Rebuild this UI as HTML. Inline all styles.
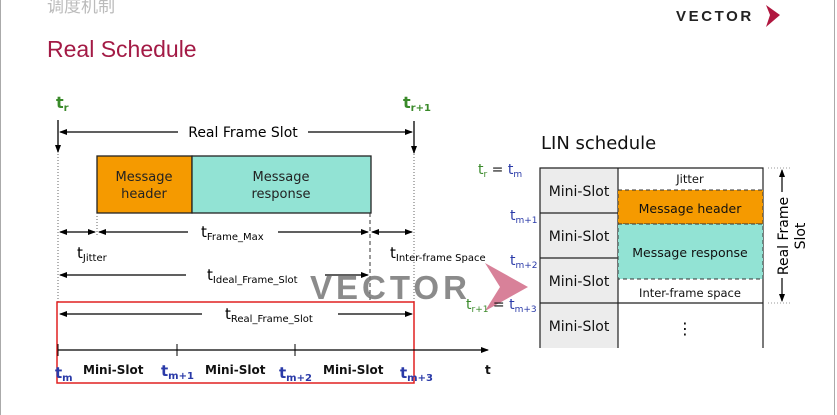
<!DOCTYPE html>
<html><head><meta charset="utf-8"><style>
body{margin:0;background:#fff}
svg{display:block;font-family:"DejaVu Sans","Liberation Sans",sans-serif}
</style></head><body>
<svg width="837" height="415" viewBox="0 0 837 415" xmlns="http://www.w3.org/2000/svg">
<defs>
<marker id="a" markerWidth="8" markerHeight="8" refX="7" refY="4" orient="auto-start-reverse" markerUnits="userSpaceOnUse"><path d="M0,1 L8,4 L0,7z" fill="#000"/></marker>
</defs>
<rect x="0.5" y="-1" width="834" height="420" fill="none" stroke="#aaa"/>
<text x="47" y="12" font-size="17" fill="#bbb" font-family="Liberation Sans,Noto Sans CJK SC,sans-serif">调度机制</text>
<text x="47" y="57" font-size="23" fill="#a31a45" font-family="Liberation Sans,sans-serif">Real Schedule</text>
<text x="676" y="21" font-size="15" font-weight="bold" letter-spacing="2.6" fill="#222" font-family="Liberation Sans,sans-serif">VECTOR</text>
<path d="M766,5 L780,15 L766,27 L770,15z" fill="#b0173f"/>
<!-- left diagram -->
<text x="56" y="108" font-size="16" font-weight="bold" fill="#3a8a2a">t<tspan font-size="10" dy="3">r</tspan></text>
<text x="403" y="108" font-size="16" font-weight="bold" fill="#3a8a2a">t<tspan font-size="10" dy="3">r+1</tspan></text>
<line x1="58" y1="120" x2="58" y2="152" stroke="#000" stroke-width="1.3" marker-end="url(#a)"/>
<line x1="414" y1="121" x2="414" y2="153" stroke="#000" stroke-width="1.3" marker-end="url(#a)"/>
<line x1="58" y1="154" x2="58" y2="302" stroke="#666" stroke-dasharray="1,2"/>
<line x1="414" y1="154" x2="414" y2="302" stroke="#666" stroke-dasharray="1,2"/>
<line x1="60" y1="132" x2="178" y2="132" stroke="#000" stroke-width="1.3" marker-start="url(#a)"/>
<line x1="308" y1="132" x2="412" y2="132" stroke="#000" stroke-width="1.3" marker-end="url(#a)"/>
<text x="243" y="137" font-size="14" text-anchor="middle">Real Frame Slot</text>
<rect x="97" y="156" width="95" height="57" fill="#f59a00" stroke="#222" stroke-width="1.3"/>
<rect x="192" y="156" width="179" height="57" fill="#92e3d4" stroke="#222" stroke-width="1.3"/>
<text x="144" y="181" font-size="13" text-anchor="middle" fill="#222">Message</text>
<text x="144" y="198" font-size="13" text-anchor="middle" fill="#222">header</text>
<text x="281" y="181" font-size="13" text-anchor="middle" fill="#222">Message</text>
<text x="281" y="198" font-size="13" text-anchor="middle" fill="#222">response</text>
<line x1="97" y1="213" x2="97" y2="235" stroke="#666" stroke-dasharray="1,2"/>
<line x1="370" y1="213" x2="370" y2="300" stroke="#333" stroke-dasharray="4,3"/>
<line x1="60" y1="232" x2="95" y2="232" stroke="#000" stroke-width="1.2" marker-start="url(#a)" marker-end="url(#a)"/>
<line x1="99" y1="232" x2="188" y2="232" stroke="#000" stroke-width="1.2" marker-start="url(#a)"/>
<line x1="278" y1="232" x2="368" y2="232" stroke="#000" stroke-width="1.2" marker-end="url(#a)"/>
<line x1="372" y1="232" x2="412" y2="232" stroke="#000" stroke-width="1.2" marker-start="url(#a)" marker-end="url(#a)"/>
<text x="201" y="237" font-size="15">t<tspan font-size="10" dy="3">Frame_Max</tspan></text>
<text x="77" y="258" font-size="15">t<tspan font-size="10" dy="3">Jitter</tspan></text>
<text x="390" y="258" font-size="15">t<tspan font-size="10" dy="3">Inter-frame Space</tspan></text>
<line x1="60" y1="275" x2="186" y2="275" stroke="#000" stroke-width="1.2" marker-start="url(#a)"/>
<line x1="325" y1="275" x2="368" y2="275" stroke="#000" stroke-width="1.2" marker-end="url(#a)"/>
<text x="207" y="280" font-size="15">t<tspan font-size="10" dy="3">Ideal_Frame_Slot</tspan></text>
<rect x="57" y="302" width="357" height="81" fill="none" stroke="#e02020" stroke-width="1.5"/>
<line x1="60" y1="314" x2="202" y2="314" stroke="#000" stroke-width="1.2" marker-start="url(#a)"/>
<line x1="338" y1="314" x2="412" y2="314" stroke="#000" stroke-width="1.2" marker-end="url(#a)"/>
<text x="225" y="319" font-size="15">t<tspan font-size="10" dy="3">Real_Frame_Slot</tspan></text>
<line x1="58" y1="350" x2="488" y2="350" stroke="#000" stroke-width="1.2" marker-end="url(#a)"/>
<line x1="58" y1="344" x2="58" y2="356" stroke="#000"/>
<line x1="177" y1="344" x2="177" y2="356" stroke="#000"/>
<line x1="295" y1="344" x2="295" y2="356" stroke="#000"/>
<g font-size="12" font-weight="bold" fill="#111">
<text x="83" y="374">Mini-Slot</text><text x="205" y="374">Mini-Slot</text><text x="323" y="374">Mini-Slot</text><text x="485" y="374">t</text></g>
<g font-size="15" font-weight="bold" fill="#2a3aa8">
<text x="55" y="378">t<tspan font-size="10" dy="3">m</tspan></text>
<text x="161" y="376">t<tspan font-size="10" dy="3">m+1</tspan></text>
<text x="279" y="378">t<tspan font-size="10" dy="3">m+2</tspan></text>
<text x="400" y="378">t<tspan font-size="10" dy="3">m+3</tspan></text></g>
<!-- watermark -->
<text x="310" y="299" font-size="33" font-weight="bold" letter-spacing="4" fill="#777" opacity="0.85" font-family="Liberation Sans,sans-serif">VECTOR</text>
<path d="M485,263 L528,287 L485,311 L500,287z" fill="#d4738e" opacity="0.9"/>
<!-- right -->
<text x="541" y="149" font-size="18" fill="#111">LIN schedule</text>
<rect x="540" y="168" width="78" height="180" fill="#ececec"/>
<path d="M540,348 V168 H763 V348 M618,168 V348 M540,213 H618 M540,258 H618 M540,303 H763" stroke="#222" stroke-width="1.2" fill="none"/>
<rect x="618" y="190" width="145" height="34" fill="#f59a00" stroke="#333" stroke-dasharray="4,3"/>
<rect x="618" y="224" width="145" height="55" fill="#92e3d4" stroke="#333" stroke-dasharray="4,3"/>
<g font-size="14" fill="#111" text-anchor="middle">
<text x="579" y="196">Mini-Slot</text><text x="579" y="241">Mini-Slot</text><text x="579" y="286">Mini-Slot</text><text x="579" y="331">Mini-Slot</text></g>
<g font-size="11.5" fill="#111" text-anchor="middle">
<text x="690" y="183">Jitter</text><text x="690" y="213" font-size="12.5">Message header</text><text x="690" y="257" font-size="12.5">Message response</text><text x="690" y="297">Inter-frame space</text></g>
<text x="685" y="334" font-size="16" text-anchor="middle">⋮</text>
<g font-size="14">
<text x="478" y="174" fill="#3a8a2a">t<tspan font-size="9" dy="3">r</tspan><tspan dy="-3" fill="#111"> = </tspan><tspan fill="#2a3aa8">t</tspan><tspan font-size="9" dy="3" fill="#2a3aa8">m</tspan></text>
<text x="510" y="220" fill="#2a3aa8">t<tspan font-size="9" dy="3">m+1</tspan></text>
<text x="510" y="265" fill="#2a3aa8">t<tspan font-size="9" dy="3">m+2</tspan></text>
<text x="466" y="309" fill="#3a8a2a">t<tspan font-size="9" dy="3">r+1</tspan><tspan dy="-3" fill="#111"> = </tspan><tspan fill="#2a3aa8">t</tspan><tspan font-size="9" dy="3" fill="#2a3aa8">m+3</tspan></text></g>
<line x1="768" y1="168" x2="790" y2="168" stroke="#999" stroke-dasharray="1,2"/>
<line x1="768" y1="303" x2="790" y2="303" stroke="#999" stroke-dasharray="1,2"/>
<line x1="782" y1="192" x2="782" y2="170" stroke="#000" stroke-width="1.2" marker-end="url(#a)"/>
<line x1="782" y1="278" x2="782" y2="301" stroke="#000" stroke-width="1.2" marker-end="url(#a)"/>
<text transform="translate(788,236) rotate(-90)" font-size="14" text-anchor="middle">Real Frame</text>
<text transform="translate(805,236) rotate(-90)" font-size="14" text-anchor="middle">Slot</text>
</svg>
</body></html>
